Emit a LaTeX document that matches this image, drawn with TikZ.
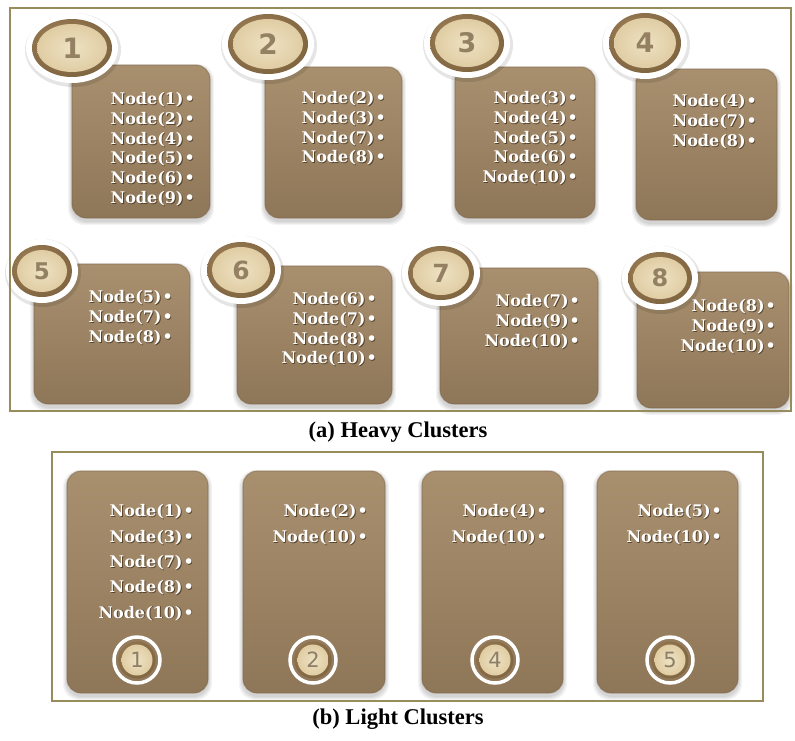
\documentclass[tikz,border=0pt]{standalone}
\usepackage{fontspec}
\setmainfont{Liberation Serif}
\newfontfamily\labelfont{DejaVu Serif}
\newfontfamily\numfont{DejaVu Sans}

% palette
\definecolor{boxtop}{RGB}{168,144,111}
\definecolor{boxmid}{RGB}{153,129,98}
\definecolor{boxbot}{RGB}{142,118,88}
\definecolor{boxedge}{RGB}{125,101,73}
\definecolor{framecol}{RGB}{150,140,92}
\definecolor{rimlight}{RGB}{160,130,88}
\definecolor{rimmid}{RGB}{120,94,60}
\definecolor{rimdark}{RGB}{82,62,38}
\definecolor{facelight}{RGB}{238,226,194}
\definecolor{facemid}{RGB}{222,202,160}
\definecolor{faceedge}{RGB}{196,166,120}
\definecolor{numcol}{RGB}{148,128,98}
\definecolor{numlight}{RGB}{140,126,104}
\definecolor{textshadow}{RGB}{66,48,28}

\pgfdeclareradialshading{coinface}{\pgfpointorigin}{%
  color(0bp)=(facelight); color(28bp)=(facemid); color(50bp)=(faceedge)}
\pgfdeclareradialshading{coinrim}{\pgfpoint{-10bp}{10bp}}{%
  color(0bp)=(rimlight); color(38bp)=(rimmid); color(50bp)=(rimdark)}

\tikzset{
  x=1pt, y=1pt,
  panelframe/.style={draw=framecol, line width=2pt},
  listtext/.style={font=\labelfont\bfseries\fontsize{16}{16}\selectfont,
    text=white, inner sep=0pt, anchor=east},
  listshade/.style={listtext, text=textshadow, opacity=0.75},
  captiontext/.style={font=\bfseries\fontsize{22.5}{22.5}\selectfont, inner sep=0pt},
  boxbody/.style={rounded corners=14pt, top color=boxtop, middle color=boxmid,
    bottom color=boxbot},
}

% one rounded brown card with a soft shadow
\newcommand{\cardbody}[4]{%
  \foreach \s in {1,...,4}{%
    \fill[black, opacity=0.045, rounded corners=16pt]
      (#1-\s, -#2+\s-3) rectangle (#3+\s, -#4-\s-3);}
  \shade[boxbody] (#1,-#2) rectangle (#3,-#4);
  \draw[boxedge, opacity=0.45, line width=1.2pt, rounded corners=14pt]
    (#1,-#2) rectangle (#3,-#4);
}

% card with its right-aligned list: name, x1, y1, x2, y2, right edge, first line, step, items
\newcommand{\clustercard}[9]{%
  \cardbody{#2}{#3}{#4}{#5}
  \foreach \t [count=\i] in {#9}{%
    \node[listshade] (#1-\i s) at (#6+0.9, {-#7-(\i-1)*#8-0.9}) {\t\kern1pt•};
    \node[listtext] (#1-\i) at (#6, {-#7-(\i-1)*#8}) {\t\kern1pt•};}
}

% wooden badge above a heavy cluster: name, cx, cy, rx, ry, font size, number
\newcommand{\heavybadge}[7]{%
  \fill[black, opacity=0.10] (#2+1,-#3-2) ellipse [x radius=#4+8, y radius=#5+8];
  \fill[white] (#2,-#3) ellipse [x radius=#4+6, y radius=#5+6];
  \shade[shading=coinrim] (#2,-#3) ellipse [x radius=#4, y radius=#5];
  \shade[shading=coinface] (#2,-#3) ellipse [x radius=#4-5, y radius=#5-5];
  \node[font=\numfont\bfseries\fontsize{#6}{#6}\selectfont, text=numcol, inner sep=0pt]
    (#1) at (#2,-#3) {#7};
}

% small ringed badge at the foot of a light cluster: name, cx, cy, number
\newcommand{\lightbadge}[4]{%
  \draw[white, line width=3.5pt] (#2,-#3) circle [radius=23];
  \shade[shading=coinrim] (#2,-#3) circle [radius=18.5];
  \shade[shading=coinface] (#2,-#3) circle [radius=15.5];
  \node[font=\numfont\fontsize{21}{21}\selectfont, text=numlight, inner sep=0pt]
    (#1) at (#2,-#3) {#4};
}

\begin{document}
\begin{tikzpicture}
\useasboundingbox (0,0) rectangle (795,-740);
\fill[white] (0,0) rectangle (795,-740);

% (a) heavy clusters, top row
\clustercard{h1}{72}{65}{210}{218}{195}{100}{19.7}{Node(1),Node(2),Node(4),Node(5),Node(6),Node(9)}
\heavybadge{b1}{72}{48}{40}{29}{28}{1}
\clustercard{h2}{265}{67}{402}{218}{386}{99}{19.7}{Node(2),Node(3),Node(7),Node(8)}
\heavybadge{b2}{268}{44}{40}{30}{28}{2}
\clustercard{h3}{455}{67}{595}{218}{578}{99}{19.7}{Node(3),Node(4),Node(5),Node(6),Node(10)}
\heavybadge{b3}{467}{43}{37}{29}{27}{3}
\clustercard{h4}{636}{69}{777}{220}{757}{102}{19.7}{Node(4),Node(7),Node(8)}
\heavybadge{b4}{645}{43}{36}{30}{27}{4}

% (a) heavy clusters, bottom row
\clustercard{h5}{34}{264}{190}{404}{173}{298}{19.7}{Node(5),Node(7),Node(8)}
\heavybadge{b5}{42}{271}{30}{26}{23}{5}
\clustercard{h6}{237}{266}{392}{404}{377}{300}{19.7}{Node(6),Node(7),Node(8),Node(10)}
\heavybadge{b6}{241}{270}{34}{28}{25}{6}
\clustercard{h7}{440}{268}{598}{404}{580}{302}{19.7}{Node(7),Node(9),Node(10)}
\heavybadge{b7}{441}{273}{33}{27}{25}{7}
\clustercard{h8}{637}{272}{789}{408}{776}{307}{19.7}{Node(8),Node(9),Node(10)}
\heavybadge{b8}{660}{278}{32}{26}{24}{8}

% (b) light clusters
\clustercard{l1}{67}{471}{208}{693}{194}{512}{25.3}{Node(1),Node(3),Node(7),Node(8),Node(10)}
\lightbadge{lb1}{137}{660}{1}
\clustercard{l2}{243}{471}{385}{693}{368}{512}{25.3}{Node(2),Node(10)}
\lightbadge{lb2}{313}{660}{2}
\clustercard{l3}{422}{471}{563}{693}{547}{512}{25.3}{Node(4),Node(10)}
\lightbadge{lb3}{495}{660}{4}
\clustercard{l4}{597}{471}{738}{693}{722}{512}{25.3}{Node(5),Node(10)}
\lightbadge{lb4}{670}{660}{5}

% panel frames and captions
\draw[panelframe] (10,-8) rectangle (791,-411);
\draw[panelframe] (52,-452) rectangle (763,-701);
\node[captiontext] (capa) at (398,-432) {(a) Heavy Clusters};
\node[captiontext] (capb) at (398,-719) {(b) Light Clusters};
\end{tikzpicture}
\end{document}
